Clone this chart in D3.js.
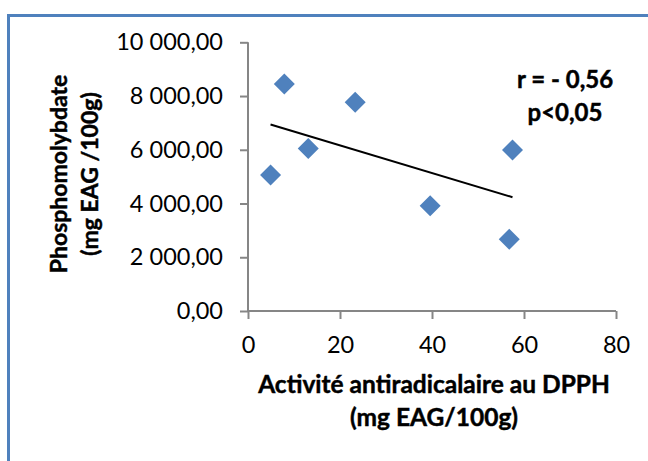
<!DOCTYPE html>
<html>
<head>
<meta charset="utf-8">
<script src="https://cdn.jsdelivr.net/npm/d3@7"></script>
<style>
  html, body { margin: 0; padding: 0; background: #fff; }
  svg { display: block; }
  text { font-family: Lato, "Open Sans", sans-serif; fill: #000; }
  .bold-label { font-weight: bold; stroke: #000; stroke-width: 0.45px; }
</style>
</head>
<body>
<svg id="chart" width="648" height="461"></svg>
<script>
// Activité antiradicalaire (DPPH) vs phosphomolybdate, one point per extract
const dpphValues = [7.9, 23.3, 13.1, 4.9, 39.6, 57.5, 56.8];
const phosphoValues = [8450, 7770, 6050, 5060, 3920, 5990, 2670];

const xTicks = [0, 20, 40, 60, 80];
const yTicks = [0, 2000, 4000, 6000, 8000, 10000];

const statLines = ["r = - 0,56", "p<0,05"];
const yTitleLines = ["Phosphomolybdate", "(mg EAG /100g)"];
const xTitleLines = ["Activité antiradicalaire au DPPH", "(mg EAG/100g)"];

const svg = d3.select("#chart");
const W = 648, H = 461;
const plot = { left: 248, right: 616, top: 42.3, bottom: 311 };

const frFmt = d3.formatLocale({ decimal: ",", thousands: " ", grouping: [3], currency: ["", ""] });
const yFormat = frFmt.format(",.2f");

const x = d3.scaleLinear().domain([0, 80]).range([plot.left, plot.right]);
const y = d3.scaleLinear().domain([0, 10000]).range([plot.bottom, plot.top]);

// chart frame
svg.append("rect").attr("width", W).attr("height", H).attr("fill", "#fff");
svg.append("rect")
  .attr("x", 8.5).attr("y", 15.5)
  .attr("width", 720).attr("height", 520)
  .attr("fill", "none")
  .attr("stroke", "#4F81BD")
  .attr("stroke-width", 3);

const axisColor = "#868686";

// y axis
const gy = svg.append("g")
  .attr("transform", `translate(${plot.left},0)`)
  .call(d3.axisLeft(y).tickValues(yTicks).tickFormat(yFormat).tickSize(8).tickPadding(17));
// x axis
const gx = svg.append("g")
  .attr("transform", `translate(0,${plot.bottom})`)
  .call(d3.axisBottom(x).tickValues(xTicks).tickFormat(d3.format("d")).tickSize(8).tickPadding(17));

[gx, gy].forEach(g => {
  g.select(".domain").attr("stroke", axisColor).attr("stroke-width", 2);
  g.selectAll(".tick line").attr("stroke", axisColor).attr("stroke-width", 2);
  g.selectAll(".tick text")
    .attr("font-family", "Lato, sans-serif")
    .attr("font-size", 23.5)
    .attr("fill", "#000");
});
// plain spine without end caps
gy.select(".domain").attr("d", `M0,${plot.bottom}V${plot.top}`);
gx.select(".domain").attr("d", `M${plot.left},0H${plot.right}`);

// least-squares trend line over the data's x range
const n = dpphValues.length;
const mx = d3.mean(dpphValues), my = d3.mean(phosphoValues);
let sxy = 0, sxx = 0;
for (let i = 0; i < n; i++) {
  sxy += (dpphValues[i] - mx) * (phosphoValues[i] - my);
  sxx += (dpphValues[i] - mx) ** 2;
}
const slope = sxy / sxx, intercept = my - slope * mx;
const xExt = d3.extent(dpphValues);
svg.append("path")
  .datum(xExt.map(v => [v, intercept + slope * v]))
  .attr("d", d3.line().x(d => x(d[0])).y(d => y(d[1])))
  .attr("fill", "none")
  .attr("stroke", "#000")
  .attr("stroke-width", 2);

// diamond markers
const r = 10.5;
svg.append("g").selectAll("path")
  .data(d3.range(n))
  .join("path")
  .attr("transform", i => `translate(${x(dpphValues[i])},${y(phosphoValues[i])})`)
  .attr("d", `M0,${-r}L${r},0L0,${r}L${-r},0Z`)
  .attr("fill", "#4F81BD");

// correlation annotation
svg.append("g").selectAll("text")
  .data(statLines)
  .join("text")
  .attr("class", "bold-label")
  .attr("x", 565)
  .attr("y", (d, i) => 88 + i * 33)
  .attr("text-anchor", "middle")
  .attr("font-size", 24)
  .text(d => d);

// y axis title (two lines, rotated)
svg.append("g")
  .attr("transform", "translate(0,174) rotate(-90)")
  .selectAll("text")
  .data(yTitleLines)
  .join("text")
  .attr("class", "bold-label")
  .attr("x", 0)
  .attr("y", (d, i) => 67 + i * 31)
  .attr("text-anchor", "middle")
  .attr("font-size", 23)
  .text(d => d);

// x axis title (two lines)
svg.append("g").selectAll("text")
  .data(xTitleLines)
  .join("text")
  .attr("class", "bold-label")
  .attr("x", 434)
  .attr("y", (d, i) => 393 + i * 33)
  .attr("text-anchor", "middle")
  .attr("font-size", 24.5)
  .text(d => d);
</script>
</body>
</html>
